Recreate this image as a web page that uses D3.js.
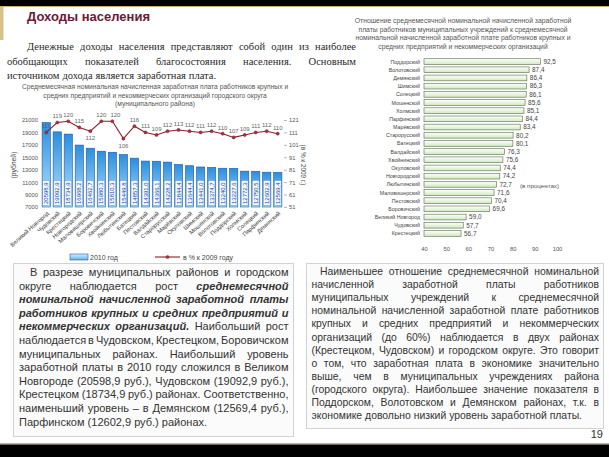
<!DOCTYPE html>
<html><head><meta charset="utf-8">
<script src="https://cdn.jsdelivr.net/npm/d3@7"></script>
<style>body{margin:0;background:#fff}svg{display:block}</style>
</head><body><svg id="c" width="609" height="457"></svg>
<script>
// ---------- DATA ----------
const incomeCategories = ["Великий Новгород","Чудовский","Крестецкий","Новгородский","Маловишерский","Боровичский","Хвойнинский","Любытинский","Батецкий","Пестовский","Валдайский","Старорусский","Марёвский","Окуловский","Шимский","Мошенской","Волотовский","Поддорский","Холмский","Солецкий","Парфинский","Демянский"];
const income2010 = [20598.9,19092.9,18734.9,16968.2,16462.7,15980.3,15810.3,15449.8,14857.3,14391.0,14366.1,14228.2,13844.4,13644.4,13441.0,13374.7,13240.0,13227.6,12772.3,12750.5,12602.9,12569.4];
const incomeGrowth = [111,119,120,115,112,120,120,106,116,111,109,112,113,112,111,112,110,107,109,111,112,110];
const incomeTicks = [7000,9000,11000,13000,15000,17000,19000,21000];
const growthTicks = [51,61,71,81,91,101,111,121];

const ratioCategories = ["Поддорский","Волотовский","Демянский","Шимский","Солецкий","Мошенской","Холмский","Парфинский","Марёвский","Старорусский","Батецкий","Валдайский","Хвойнинский","Окуловский","Новгородский","Любытинский","Маловишерский","Пестовский","Боровичский","Великий Новгород","Чудовский","Крестецкий"];
const ratioValues = [92.5,87.4,86.4,86.3,86.1,85.6,85.1,84.4,83.4,80.2,80.1,76.3,75.6,74.4,74.2,72.7,71.6,70.4,69.6,59.0,57.7,56.7];
const ratioTicks = [40,50,60,70,80,90,100];

const svg = d3.select("#c");
const SANS = "'Liberation Sans', Arial, sans-serif";
const SERIF = "'Liberation Serif', 'Times New Roman', serif";
const fmt = v => d3.format(".1f")(v).replace(".", ",");

// ---------- defs ----------
const defs = svg.append("defs");
const gb = defs.append("linearGradient").attr("id","gBlue").attr("x1",0).attr("y1",0).attr("x2",0).attr("y2",1);
gb.append("stop").attr("offset","0%").attr("stop-color","#2a8ee0");
gb.append("stop").attr("offset","100%").attr("stop-color","#b8e4fa");
const gbh = defs.append("linearGradient").attr("id","gBlueL").attr("x1",0).attr("y1",0).attr("x2",0).attr("y2",1);
gbh.append("stop").attr("offset","0%").attr("stop-color","#d6f0fc");
gbh.append("stop").attr("offset","100%").attr("stop-color","#5cb2ea");
const gg = defs.append("linearGradient").attr("id","gGreen").attr("x1",0).attr("y1",0).attr("x2",0).attr("y2",1);
gg.append("stop").attr("offset","0%").attr("stop-color","#ffffff");
gg.append("stop").attr("offset","100%").attr("stop-color","#cfeabd");

// ---------- slide frame ----------
svg.append("rect").attr("x",0).attr("y",0).attr("width",609).attr("height",6).attr("fill","#000");
svg.append("rect").attr("x",0).attr("y",6).attr("width",609).attr("height",1).attr("fill","#c9b27a");
svg.append("rect").attr("x",0).attr("y",7).attr("width",3.5).attr("height",33).attr("fill","#d9c28a");
svg.append("rect").attr("x",0).attr("y",443).attr("width",609).attr("height",1.5).attr("fill","#c9b27a");
svg.append("rect").attr("x",0).attr("y",444.5).attr("width",609).attr("height",13).attr("fill","#000");

svg.append("text").attr("x",27).attr("y",21).attr("font-family",SANS).attr("font-weight","bold")
  .attr("font-size",13).attr("fill","#6b1a35").text("Доходы населения");

// ---------- justified text helper ----------
function justify(g, line, x0, x1, y, size, family, color, full) {
  const words = line.split(" ").filter(w => w.length);
  const nodes = words.map(w => {
    const b = w.startsWith("*");
    return g.append("text").attr("y", y).attr("font-family", family).attr("font-size", size)
      .attr("fill", color).attr("font-weight", b ? "bold" : null).attr("font-style", b ? "italic" : null)
      .text(b ? w.slice(1) : w);
  });
  const widths = nodes.map(n => n.node().getComputedTextLength());
  const total = d3.sum(widths);
  const gap = (full && words.length > 1) ? (x1 - x0 - total) / (words.length - 1) : size * 0.28;
  let x = x0;
  nodes.forEach((n, i) => { n.attr("x", x); x += widths[i] + gap; });
}

// intro paragraph
const intro = ["Денежные доходы населения представляют собой один из наиболее",
  "обобщающих показателей благосостояния населения. Основным",
  "источником дохода является заработная плата."];
const gi = svg.append("g");
justify(gi, intro[0], 27, 356, 50, 10.5, SERIF, "#2a2a2a", true);
justify(gi, intro[1], 7, 356, 64.5, 10.5, SERIF, "#2a2a2a", true);
justify(gi, intro[2], 7, 356, 79, 10.5, SERIF, "#2a2a2a", false);

// ---------- LEFT CHART ----------
const lt = svg.append("g").attr("font-family", SANS).attr("fill","#555").attr("font-size",6.7).attr("text-anchor","middle");
["Среднемесячная номинальная начисленная заработная плата работников крупных и",
 "средних предприятий и некоммерческих организаций городского округа",
 "(муниципального района)"].forEach((t,i)=> lt.append("text").attr("x",155).attr("y",89+i*8.5).text(t));

const x = d3.scaleBand().domain(incomeCategories).range([41, 283]).paddingInner(0.25).paddingOuter(0.1);
const y = d3.scaleLinear().domain([7000, 21000]).range([207, 120]);
const y2 = d3.scaleLinear().domain([51, 121]).range([207, 120]);

const gL = svg.append("g");
const yAx = gL.append("g").attr("transform","translate(40,0)")
  .call(d3.axisLeft(y).tickValues(incomeTicks).tickSize(0).tickPadding(2).tickFormat(d3.format("d")));
yAx.select(".domain").remove();
yAx.selectAll("text").attr("font-family",SANS).attr("font-size",5.8).attr("fill","#555");

const y2Ax = gL.append("g").attr("transform","translate(284,0)")
  .call(d3.axisRight(y2).tickValues(growthTicks).tickSize(3).tickPadding(2));
y2Ax.select(".domain").remove();
y2Ax.selectAll("line").attr("stroke","#888").attr("stroke-width",0.6);
y2Ax.selectAll("text").attr("font-family",SANS).attr("font-size",5.8).attr("fill","#555");

gL.append("text").attr("transform","translate(16,165) rotate(-90)").attr("text-anchor","middle")
  .attr("font-family",SANS).attr("font-size",6.8).attr("fill","#444").text("(рублей)");
gL.append("text").attr("transform","translate(301,165) rotate(90)").attr("text-anchor","middle")
  .attr("font-family",SANS).attr("font-size",6.4).attr("fill","#444").text("(в % к 2009 г.)");

gL.selectAll("rect.bar").data(incomeCategories).join("rect").attr("class","bar")
  .attr("x", d => x(d)).attr("width", x.bandwidth())
  .attr("y", (d,i) => y(income2010[i])).attr("height", (d,i) => y(7000) - y(income2010[i]))
  .attr("fill","url(#gBlue)").attr("stroke","#1d5aa8").attr("stroke-width",0.6);

// value labels inside bars
incomeCategories.forEach((c,i) => {
  const cx = x(c) + x.bandwidth()/2;
  const g = gL.append("g");
  const r = g.append("rect");
  const t = g.append("text").attr("transform",`translate(${cx+2.1},204) rotate(-90)`)
    .attr("font-family",SANS).attr("font-size",6).attr("fill","#1d3f9e").text(fmt(income2010[i]));
  const len = t.node().getComputedTextLength();
  r.attr("x", cx-3.4).attr("y", 204-len-1.8).attr("width",6.8).attr("height",len+3)
    .attr("fill","#f4fbff").attr("stroke","#3a7ed0").attr("stroke-width",0.4);
});

// x tick labels
incomeCategories.forEach(c => {
  gL.append("text").attr("transform",`translate(${x(c)+x.bandwidth()/2+3},214) rotate(-42)`)
    .attr("text-anchor","end").attr("font-family",SANS).attr("font-size",5.8).attr("fill","#444").text(c);
});

// growth line
const line = d3.line().x((d,i) => x(incomeCategories[i]) + x.bandwidth()/2).y(d => y2(d));
gL.append("path").datum(incomeGrowth).attr("d", line).attr("fill","none").attr("stroke","#8a1f2a").attr("stroke-width",1.1);
gL.selectAll("circle.pt").data(incomeGrowth).join("circle").attr("class","pt")
  .attr("cx",(d,i)=> x(incomeCategories[i]) + x.bandwidth()/2).attr("cy", d=>y2(d)).attr("r",1.6)
  .attr("fill","#b03040").attr("stroke","#6a1520").attr("stroke-width",0.4);
const below = new Set([4,7]);
gL.selectAll("text.gl").data(incomeGrowth).join("text").attr("class","gl")
  .attr("x",(d,i)=> x(incomeCategories[i]) + x.bandwidth()/2 + (i===6?3:0))
  .attr("y",(d,i)=> below.has(i) ? y2(d)+9 : y2(d)-4)
  .attr("text-anchor","middle").attr("font-family",SANS).attr("font-size",6).attr("fill","#666").text(d=>d);

// legend
const lg = svg.append("g");
lg.append("rect").attr("x",70).attr("y",254).attr("width",18).attr("height",6).attr("fill","url(#gBlueL)").attr("stroke","#1d5aa8").attr("stroke-width",0.6);
lg.append("text").attr("x",90).attr("y",259.5).attr("font-family",SANS).attr("font-size",7).attr("fill","#444").text("2010 год");
lg.append("line").attr("x1",155).attr("x2",180).attr("y1",257).attr("y2",257).attr("stroke","#8a1f2a").attr("stroke-width",1.1);
lg.append("circle").attr("cx",167.5).attr("cy",257).attr("r",1.6).attr("fill","#b03040").attr("stroke","#6a1520").attr("stroke-width",0.4);
lg.append("text").attr("x",183).attr("y",259.5).attr("font-family",SANS).attr("font-size",7).attr("fill","#444").text("в % к 2009 году");

// ---------- RIGHT CHART ----------
const rt = svg.append("g").attr("font-family", SANS).attr("fill","#555").attr("font-size",6.8).attr("text-anchor","middle");
["Отношение среднемесячной номинальной начисленной заработной",
 "платы работников муниципальных учреждений к среднемесячной",
 "номинальной начисленной заработной плате работников крупных и",
 "средних предприятий и некоммерческих организаций"].forEach((t,i)=> rt.append("text").attr("x",463).attr("y",23+i*8.7).text(t));

const xr = d3.scaleLinear().domain([40, 100]).range([424, 557]);
const yr = d3.scaleBand().domain(ratioCategories).range([57.5, 237.5]).paddingInner(0.3).paddingOuter(0.15);
const gR = svg.append("g");
const xrAx = gR.append("g").attr("transform","translate(0,244)")
  .call(d3.axisBottom(xr).tickValues(ratioTicks).tickSize(0).tickPadding(3));
xrAx.select(".domain").remove();
xrAx.selectAll("text").attr("font-family",SANS).attr("font-size",5.8).attr("fill","#555");

gR.selectAll("rect.rb").data(ratioCategories).join("rect").attr("class","rb")
  .attr("x", xr(40)).attr("y", d => yr(d)).attr("height", yr.bandwidth())
  .attr("width", (d,i) => xr(ratioValues[i]) - xr(40))
  .attr("fill","url(#gGreen)").attr("stroke","#5a6a50").attr("stroke-width",0.6);
gR.selectAll("text.rc").data(ratioCategories).join("text").attr("class","rc")
  .attr("x", 420).attr("y", d => yr(d) + yr.bandwidth()/2 + 2).attr("text-anchor","end")
  .attr("font-family",SANS).attr("font-size",5.3).attr("fill","#444").text(d=>d);
gR.selectAll("text.rv").data(ratioValues).join("text").attr("class","rv")
  .attr("x", d => xr(d) + 3).attr("y", (d,i) => yr(ratioCategories[i]) + yr.bandwidth()/2 + 2.3)
  .attr("font-family",SANS).attr("font-size",6.4).attr("fill","#444").text(d=>fmt(d));
gR.append("text").attr("x",520).attr("y",188).attr("font-family",SANS).attr("font-size",6.2).attr("fill","#555").text("(в процентах)");

// ---------- TEXT BOXES ----------
const boxL = svg.append("g");
boxL.append("rect").attr("x",13.5).attr("y",263.5).attr("width",280).attr("height",173).attr("fill","#fbfbfb").attr("stroke","#d2d2d2");
const leftLines = [
 "В разрезе муниципальных районов и городском",
 "округе наблюдается рост *среднемесячной",
 "*номинальной *начисленной *заработной *платы",
 "*работников *крупных *и *средних *предприятий *и",
 "*некоммерческих *организаций. Наибольший рост",
 "наблюдается в Чудовском, Крестецком, Боровичском",
 "муниципальных районах. Наибольший уровень",
 "заработной платы в 2010 году сложился в Великом",
 "Новгороде (20598,9 руб.), Чудовском (19092,9 руб.),",
 "Крестецком (18734,9 руб.) районах. Соответственно,",
 "наименьший уровень – в Демянском (12569,4 руб.),",
 "Парфинском (12602,9 руб.) районах."];
leftLines.forEach((l,i) => justify(boxL, l, i===0?30:19, 288.5, 276 + i*13.6, 11, SANS, "#333", i < leftLines.length-1));

const boxR = svg.append("g");
boxR.append("rect").attr("x",306.5).attr("y",263.5).attr("width",297).attr("height",165).attr("fill","#fbfbfb").attr("stroke","#d2d2d2");
const rightLines = [
 "Наименьшее отношение среднемесячной номинальной",
 "начисленной заработной платы работников",
 "муниципальных учреждений к среднемесячной",
 "номинальной начисленной заработной плате работников",
 "крупных и средних предприятий и некоммерческих",
 "организаций (до 60%) наблюдается в двух районах",
 "(Крестецком, Чудовском) и городском округе. Это говорит",
 "о том, что заработная плата в экономике значительно",
 "выше, чем в муниципальных учреждениях района",
 "(городского округа). Наибольшее значение показателя в",
 "Поддорском, Волотовском и Демянском районах, т.к. в",
 "экономике довольно низкий уровень заработной платы."];
rightLines.forEach((l,i) => justify(boxR, l, i===0?320:311.5, 599, 275 + i*13.1, 10.4, SANS, "#333", i < rightLines.length-1));

svg.append("text").attr("x",603).attr("y",438).attr("text-anchor","end").attr("font-family",SANS).attr("font-size",11).attr("fill","#333").text("19");
</script></body></html>
